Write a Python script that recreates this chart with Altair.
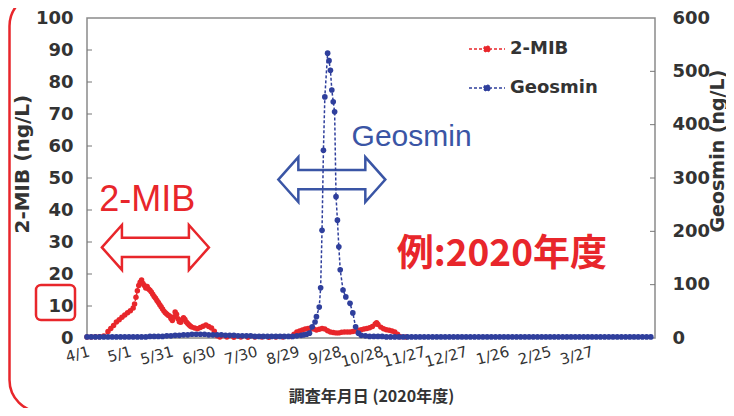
import altair as alt
import pandas as pd

RED = "#e8262b"
BLUE = "#2f3f9c"
AXIS_C = "#333333"

# ---- x axis: days since 2020-04-01 ----
X_TICK_DAYS = [0, 30, 60, 90, 120, 150, 180, 210, 240, 270, 300, 330, 360]
X_TICK_LABELS = ["4/1", "5/1", "5/31", "6/30", "7/30", "8/29", "9/28", "10/28",
                 "11/27", "12/27", "1/26", "2/25", "3/27"]
X_DOMAIN = [0, 406]

LEFT_TICKS = [0, 10, 20, 30, 40, 50, 60, 70, 80, 90, 100]
RIGHT_TICKS = [0, 100, 200, 300, 400, 500, 600]
LEFT_INNER = [10, 20, 30, 40, 50, 60, 70, 80, 90]
RIGHT_INNER = [100, 200, 300, 400, 500]

# ---- 2-MIB (ng/L) ----
RED_DAYS = [0, 3, 6, 9, 12, 15, 17, 19, 21, 23, 25, 27, 29, 31, 33, 34, 35, 36, 37, 38,
            39, 40, 41, 42, 43, 44, 45, 46, 47, 48, 49, 50, 51, 52, 53, 54, 55, 56, 57, 58,
            59, 60, 61, 62, 63, 64, 65, 66, 67, 68, 69, 70, 71, 72, 73, 74, 75, 77, 79, 81,
            83, 85, 87, 89, 91, 93, 95, 100, 105, 110, 115, 120, 125, 130, 135, 140, 146, 148,
            150, 152, 154, 156, 158, 160, 162, 164, 166, 168, 170, 172, 174, 176, 178, 180,
            182, 184, 186, 188, 190, 192, 194, 196, 198, 200, 202, 204, 206, 207, 208, 210,
            212, 214, 216, 218, 220, 222, 224, 228]
RED_VALS = [0.3, 0.3, 0.4, 0.4, 0.6, 2.0, 3.0, 3.9, 5.0, 5.7, 6.5, 7.2, 7.9, 8.5, 9.4, 10.6, 12.7, 14.8, 16.4, 17.4,
            18.1, 17.0, 16.4, 15.6, 16.1, 15.3, 14.9, 14.4, 13.7, 13.0, 12.4, 11.7, 11.1, 10.4, 9.8, 9.1, 8.4, 7.9, 7.5, 7.1,
            6.9, 6.1, 5.5, 6.6, 8.1, 7.4, 6.0, 5.1, 4.9, 5.7, 6.3, 5.8, 5.0, 4.5, 4.1, 3.7, 3.4, 3.1, 2.9, 3.3,
            3.7, 4.1, 3.6, 3.1, 2.1, 0.7, 0.3, 0.3, 0.2, 0.3, 0.2, 0.3, 0.3, 0.2, 0.3, 0.3, 0.5, 1.2,
            1.9, 2.2, 2.5, 2.8, 3.0, 3.1, 2.8, 2.5, 2.7, 3.0, 2.8, 2.3, 1.9, 1.7, 1.6, 1.6,
            1.8, 1.9, 1.9, 1.9, 2.0, 2.2, 2.4, 2.6, 2.8, 3.0, 3.2, 3.6, 4.4, 4.8, 4.2, 3.4,
            2.9, 2.6, 2.4, 2.2, 1.9, 1.2, 0.4, 0.3]

# ---- Geosmin (ng/L) ----
BLUE_DAYS = [0, 3, 6, 9, 12, 15, 18, 21, 24, 27, 30, 33, 36, 39, 42, 45, 48, 51, 54, 57,
             60, 63, 66, 69, 72, 75, 78, 81, 84, 87, 90, 93, 96, 99, 102, 105, 108, 111, 114, 117,
             120, 123, 126, 129, 132, 135, 138, 141, 144, 147, 150, 153, 155, 157, 159, 161, 163, 164, 166, 167,
             168, 169, 170, 172, 173, 174, 175, 176, 177, 178, 179, 180, 181, 183, 185, 188, 190, 192, 194, 196,
             199, 202, 205, 208, 211, 214, 217, 220, 223, 226, 229, 232, 235, 238, 241, 244, 247, 250, 253, 256,
             259, 262, 265, 268, 271, 274, 277, 280, 283, 286, 289, 292, 295, 298, 301, 304, 307, 310, 313, 316,
             319, 322, 325, 328, 331, 334, 337, 340, 343, 346, 349, 352, 355, 358, 361, 364, 367, 370, 373, 376,
             379, 382, 385, 388, 391, 394, 397, 400, 403]
BLUE_VALS = [2, 2, 2, 2, 2, 2, 2, 2, 2, 2, 2, 2, 2, 2, 2, 3, 3, 3, 3, 4,
             4, 5, 5, 6, 6, 7, 7, 7, 7, 6, 6, 6, 6, 5, 5, 5, 4, 4, 4, 4,
             3, 3, 3, 3, 3, 3, 3, 3, 3, 3, 4, 5, 6, 7, 9, 21, 30, 40, 58, 94,
             202, 352, 452, 534, 520, 502, 465, 443, 424, 265, 221, 171, 128, 90, 77, 65, 47, 21, 9, 5,
             4, 3, 3, 3, 3, 2, 2, 2, 2, 2, 2, 2, 2, 2, 2, 2, 2, 2, 2, 2,
             2, 2, 2, 2, 2, 2, 2, 2, 2, 2, 2, 2, 2, 2, 2, 2, 2, 2, 2, 2,
             2, 2, 2, 2, 2, 2, 2, 2, 2, 2, 2, 2, 2, 2, 2, 2, 2, 2, 2, 2,
             2, 2, 2, 2, 2, 2, 2, 2, 2]

SERIES = ["2-MIB", "Geosmin"]
COLORS = [RED, BLUE]

# ---- annotations (x in days, y on 2-MIB scale) ----
ANN_TEXTS = ["2-MIB", "Geosmin", "例:2020年度"]
ANN_DAYS = [43.0, 232.0, 296.5]
ANN_VALS = [43.1, 62.7, 25.9]
ARROW_DAYS = [48.9, 175.0]
ARROW_VALS = [28.3, 49.5]
BOX10 = [16.6, 5.6]

W, H = 568, 320
PAD_L, PAD_T, PAD_R, PAD_B = 79, 10, 71, 70

ARROW_PATH = ("M-1,0L-0.626,-0.42L-0.626,-0.18L0.626,-0.18L0.626,-0.42L1,0"
              "L0.626,0.42L0.626,0.18L-0.626,0.18L-0.626,0.42Z")
LEG_PATH = "M-1,0L1,0M-0.17,0A0.17,0.17,0,1,1,0.17,0A0.17,0.17,0,1,1,-0.17,0Z"

label_js = "[" + ",".join("'%s'" % s for s in X_TICK_LABELS) + "]"

red_df = pd.DataFrame({"d": RED_DAYS, "v": RED_VALS, "s": SERIES[0]})
blue_df = pd.DataFrame({"d": BLUE_DAYS, "v": BLUE_VALS, "s": SERIES[1]})

x_axis = alt.Axis(values=X_TICK_DAYS, labelExpr=label_js + "[round(datum.value/30)]",
                  labelAngle=-15, labelAlign="right", labelBaseline="top",
                  labelPadding=6, labelFont="DejaVu Sans", labelFontSize=15,
                  labelColor=AXIS_C, ticks=False, domain=False, grid=False,
                  labelOverlap=False, labelBound=False, labelFlush=False,
                  title="調査年月日 (2020年度)", titleFont="Noto Sans CJK JP",
                  titleFontSize=16, titleFontWeight="bold", titleColor=AXIS_C,
                  titleX=W / 2, titleY=63, titleBaseline="alphabetic")
yl_axis = alt.Axis(values=LEFT_TICKS, tickCount=11, labelFont="DejaVu Sans", labelFontSize=18,
                   labelFontWeight="bold", labelColor=AXIS_C, labelPadding=14,
                   labelOverlap=False, labelBound=False, labelFlush=False,
                   ticks=False, domain=False, grid=False,
                   title="2-MIB (ng/L)", titleFont="DejaVu Sans", titleFontSize=20,
                   titleFontWeight="bold", titleColor=AXIS_C, titleAngle=270,
                   titleX=-65, titleY=215, titleAlign="left", titleBaseline="middle")
yr_axis = alt.Axis(values=RIGHT_TICKS, tickCount=7, orient="right", labelFont="DejaVu Sans",
                   labelFontSize=18, labelFontWeight="bold", labelColor=AXIS_C, labelPadding=17,
                   labelOverlap=False, labelBound=False, labelFlush=False,
                   ticks=False, domain=False, grid=False,
                   title="Geosmin (ng/L)", titleFont="DejaVu Sans", titleFontSize=19,
                   titleFontWeight="bold", titleColor=AXIS_C, titleAngle=270,
                   titleX=62, titleY=214, titleAlign="left", titleBaseline="middle")


def X():
    return alt.X("d:Q", scale=alt.Scale(domain=X_DOMAIN, nice=False, zero=False), axis=x_axis)


def YL(field="v:Q"):
    return alt.Y(field, scale=alt.Scale(domain=[0, 100], nice=False, zero=True), axis=yl_axis)


def YR(field="v:Q"):
    return alt.Y(field, scale=alt.Scale(domain=[0, 600], nice=False, zero=True), axis=yr_axis)


legend = alt.Legend(title=None, orient="none", legendX=381, legendY=12,
                    symbolType=LEG_PATH, symbolSize=1296, symbolDash=[3, 2],
                    symbolStrokeWidth=1.5, labelFont="DejaVu Sans", labelFontSize=18,
                    labelFontWeight="bold", labelColor=AXIS_C, labelOffset=4,
                    rowPadding=11, padding=0)


def cscale():
    return alt.Scale(domain=SERIES, range=COLORS)


# ----- left (2-MIB) layer -----
red_line = alt.Chart(red_df).mark_line(strokeDash=[3, 2], strokeWidth=1.5).encode(
    x=X(), y=YL(), stroke=alt.Stroke("s:N", scale=cscale(), legend=legend))
red_pts = alt.Chart(red_df).mark_circle(size=30, opacity=1).encode(
    x=X(), y=YL(), fill=alt.Fill("s:N", scale=cscale(), legend=legend))

lt_df = pd.DataFrame({"v": LEFT_INNER})
left_ticks = alt.Chart(lt_df).mark_rule(color="#777777", strokeWidth=1).encode(
    y=YL(), x=alt.value(0), x2=alt.value(5))


def ann_text(i, color, font, size, weight):
    df = pd.DataFrame({"d": [ANN_DAYS[i]], "v": [ANN_VALS[i]], "t": [ANN_TEXTS[i]]})
    return alt.Chart(df).mark_text(color=color, font=font, fontSize=size, fontWeight=weight,
                                   align="center", baseline="middle").encode(
        x=X(), y=YL(), text="t:N")


def arrow(i, color):
    df = pd.DataFrame({"d": [ARROW_DAYS[i]], "v": [ARROW_VALS[i]]})
    return alt.Chart(df).mark_point(shape=ARROW_PATH, size=107 * 107, filled=False,
                                    stroke=color, strokeWidth=2.5, opacity=1).encode(
        x=X(), y=YL())


t_mib = ann_text(0, RED, "Liberation Sans Narrow, Liberation Sans, sans-serif", 36, "normal")
t_geo = ann_text(1, "#3a55a5", "Liberation Sans, sans-serif", 30, "normal")
t_year = ann_text(2, RED, "Noto Sans CJK JP", 37, "bold")
a_mib = arrow(0, RED)
a_geo = arrow(1, "#3a55a5")

box_df = pd.DataFrame({"v": [BOX10[0]], "v2": [BOX10[1]]})
box10 = alt.Chart(box_df).mark_rect(filled=False, stroke=RED, strokeWidth=2.5,
                                    cornerRadius=5).encode(
    y=YL(), y2="v2:Q", x=alt.value(-51), x2=alt.value(-12))

frame_df = pd.DataFrame({"k": [0]})
frame = alt.Chart(frame_df).mark_rect(filled=False, stroke=RED, strokeWidth=2.5,
                                      cornerRadius=32).encode(
    x=alt.value(1.5 - PAD_L), x2=alt.value(W + 300),
    y=alt.value(-14 - PAD_T), y2=alt.value(404 - PAD_T))

left = alt.layer(red_line, red_pts, left_ticks, t_mib, t_geo, t_year, a_mib, a_geo, box10, frame)

# ----- right (Geosmin) layer -----
blue_line = alt.Chart(blue_df).mark_line(strokeDash=[3, 2], strokeWidth=1.5).encode(
    x=X(), y=YR(), stroke=alt.Stroke("s:N", scale=cscale(), legend=legend))
blue_pts = alt.Chart(blue_df).mark_circle(size=32, opacity=1).encode(
    x=X(), y=YR(), fill=alt.Fill("s:N", scale=cscale(), legend=legend))
rt_df = pd.DataFrame({"v": RIGHT_INNER})
right_ticks = alt.Chart(rt_df).mark_rule(color="#777777", strokeWidth=1).encode(
    y=YR(), x=alt.value(W - 5), x2=alt.value(W))

right = alt.layer(blue_line, blue_pts, right_ticks)

chart = alt.layer(left, right).resolve_scale(y="independent").properties(
    width=W, height=H,
    autosize=alt.AutoSizeParams(type="none"),
    padding={"left": PAD_L, "top": PAD_T, "right": PAD_R, "bottom": PAD_B},
    background="white",
).configure_view(stroke="#8a8a8a", strokeWidth=1.5).configure_axis(labelOverlap=False)

chart.save("out.html", embed_options={"renderer": "svg", "actions": False})
